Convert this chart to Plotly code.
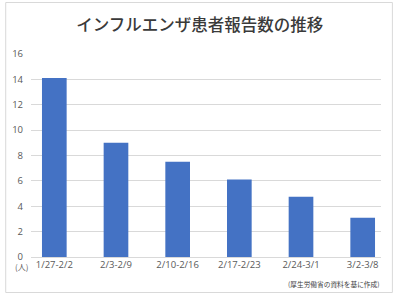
import plotly.graph_objects as go

categories = ["1/27-2/2", "2/3-2/9", "2/10-2/16", "2/17-2/23", "2/24-3/1", "3/2-3/8"]
values = [14.1, 9.0, 7.5, 6.1, 4.75, 3.1]
y_ticks = [0, 2, 4, 6, 8, 10, 12, 14, 16]

title_text = "インフルエンザ患者報告数の推移"
unit_text = "(人)"
source_text = "(厚生労働省の資料を基に作成)"

W, H = 397, 297
L, R, T, B = 28, 16, 54, 40

fig = go.Figure()
fig.add_trace(go.Bar(
    x=list(range(len(categories))), y=values, width=0.4,
    marker=dict(color="#4472C4", line=dict(width=0)),
    hoverinfo="skip",
))

fig.update_layout(
    width=W, height=H,
    margin=dict(l=L, r=R, t=T, b=B, pad=0),
    paper_bgcolor="white", plot_bgcolor="white",
    showlegend=False,
    font=dict(family="Open Sans, Noto Sans CJK JP", size=10, color="#595959"),
    title=dict(text=title_text, x=0.503, xanchor="center", y=1 - 25 / H, yanchor="middle",
               font=dict(family="Noto Sans CJK JP", size=16.5, color="#3a3a3a", weight=500)),
    xaxis=dict(
        range=[-0.378, 5.297], tickmode="array",
        tickvals=list(range(len(categories))), ticktext=categories,
        showgrid=False, zeroline=False, showline=False, ticks="",
        tickfont=dict(size=9.5, color="#595959"),
    ),
    yaxis=dict(
        range=[0, 16], tickmode="array", tickvals=y_ticks,
        showgrid=True, gridcolor="#d9d9d9", gridwidth=1,
        zeroline=True, zerolinecolor="#d9d9d9", zerolinewidth=1,
        showline=False, ticks="", ticklabelstandoff=7,
        tickfont=dict(size=9.5, color="#595959"),
    ),
    shapes=[dict(type="rect", xref="paper", yref="paper",
                 x0=(2.5 - L) / (W - L - R), x1=(392.5 - L) / (W - L - R),
                 y0=-(292.5 - (H - B)) / (H - T - B), y1=1 + (T - 2.5) / (H - T - B),
                 line=dict(color="#d9d9d9", width=1), fillcolor="rgba(0,0,0,0)", layer="below")],
    annotations=[
        dict(text=unit_text, xref="paper", yref="paper",
             x=(18 - L) / (W - L - R), y=-(266 - (H - B)) / (H - T - B),
             xanchor="center", yanchor="middle", showarrow=False,
             font=dict(size=8, color="#595959", family="Noto Sans CJK JP")),
        dict(text=source_text, xref="paper", yref="paper",
             x=(381 - L) / (W - L - R), y=-(284 - (H - B)) / (H - T - B),
             xanchor="right", yanchor="middle", showarrow=False,
             font=dict(size=6.7, color="#404040", family="Noto Sans CJK JP")),
    ],
)

fig.write_html("out.html")
